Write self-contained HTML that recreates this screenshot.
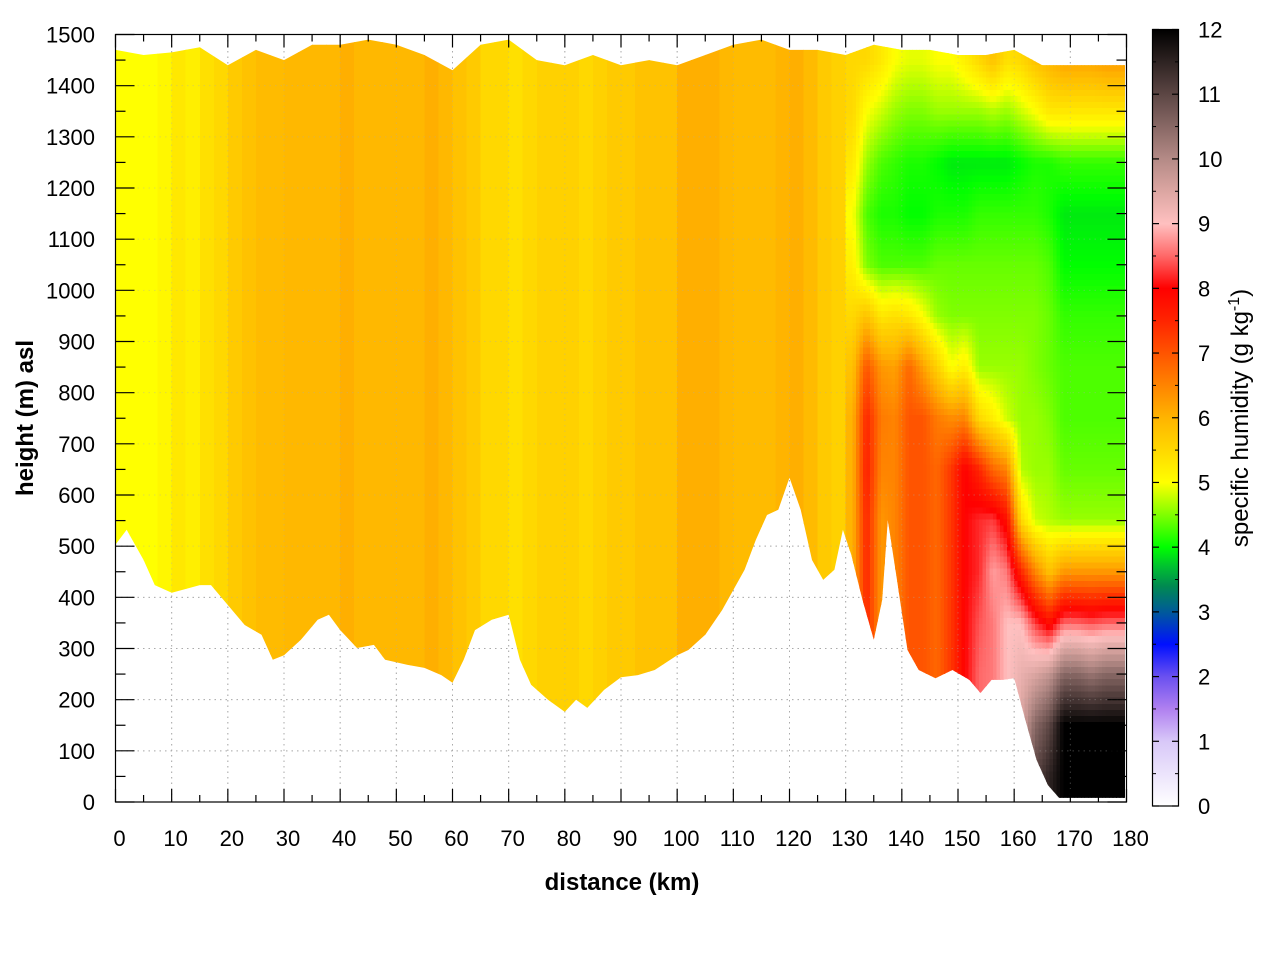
<!DOCTYPE html>
<html><head><meta charset="utf-8">
<style>
html,body{margin:0;padding:0;background:#fff;}
svg{display:block;font-family:"Liberation Sans",Arial,sans-serif;}
</style></head>
<body>
<svg id="chart" width="1280" height="960" viewBox="0 0 1280 960" xmlns="http://www.w3.org/2000/svg">
<defs>
  <clipPath id="dataClip"><path id="clipPathShape" d=""/></clipPath>
  <linearGradient id="cbGrad" x1="0" y1="1" x2="0" y2="0"></linearGradient>
</defs>
<rect x="0" y="0" width="1280" height="960" fill="#fff"/>
<g id="grid"></g>
<g clip-path="url(#dataClip)">
  <g id="heat" shape-rendering="crispEdges"></g>
</g>
<g id="grid2" opacity="0.35"></g>
<rect x="115.5" y="34.5" width="1011" height="767.5" fill="none" stroke="#000" stroke-width="1.2"/>
<g id="axes"></g>
<text x="622" y="890" text-anchor="middle" font-size="24" font-weight="bold">distance (km)</text>
<text transform="translate(33,418) rotate(-90)" text-anchor="middle" font-size="24" font-weight="bold">height (m) asl</text>
<rect x="1152.5" y="29.5" width="26" height="776.5" fill="url(#cbGrad)" stroke="#000" stroke-width="1.2"/>
<g id="cbaxis"></g>
<text transform="translate(1248,418) rotate(-90)" text-anchor="middle" font-size="24">specific humidity (g kg<tspan dy="-9" font-size="16">-1</tspan><tspan dy="9">)</tspan></text>
</svg>
<script>
// ---- data ----
const xTicks = [0,10,20,30,40,50,60,70,80,90,100,110,120,130,140,150,160,170,180];
const yTicks = [0,100,200,300,400,500,600,700,800,900,1000,1100,1200,1300,1400,1500];
const cbTicks = [0,1,2,3,4,5,6,7,8,9,10,11,12];
// left region (0-130 km), 2.5 km columns, vertically uniform humidity
const leftColValues = [5.0,5.0,5.0,5.1,5.3,5.2,5.4,5.5,5.7,5.8,5.9,5.9,5.95,5.95,5.95,5.95,6.05,5.95,5.95,5.95,5.95,5.95,6.05,5.95,5.8,5.7,5.5,5.5,5.4,5.5,5.6,5.6,5.6,5.5,5.6,5.7,5.7,5.8,5.8,5.8,6.05,6.05,6.05,5.95,5.9,5.9,5.9,6.0,6.05,5.9,5.7,5.6];
// right region (130-180 km), 2.5 km columns; each column lists 100 m rows from 1450 m down to 50 m
const rightColProfiles = [
 [5.5,5.5,5.3,5.0,5.2,5.5,5.8,6.0,6.0,6.0,6.0,6.0,6.0,6.0,6.0],
 [5.5,5.0,4.6,4.3,4.5,5.8,7.0,7.5,7.6,7.5,7.5,7.5,7.5,7.5,7.5],
 [5.3,4.8,4.3,4.1,4.3,5.3,6.3,6.6,6.5,6.3,6.3,6.3,6.3,6.3,6.3],
 [5.0,4.6,4.2,4.1,4.3,5.4,6.2,6.5,6.5,6.5,6.5,6.5,6.5,6.5,6.5],
 [4.9,4.5,4.1,4.0,4.3,5.3,6.8,7.0,7.0,7.0,7.0,7.0,7.0,7.0,7.0],
 [4.9,4.5,4.1,4.0,4.3,5.0,6.2,7.0,7.0,7.0,7.0,7.0,7.0,7.0,7.0],
 [5.0,4.6,4.0,4.1,4.4,4.6,5.6,6.6,6.8,6.8,6.8,6.8,6.8,6.8,6.8],
 [5.0,4.6,3.9,4.1,4.4,4.5,5.0,6.4,7.3,7.3,7.3,7.3,7.3,7.3,7.3],
 [5.2,4.6,3.9,4.1,4.4,4.5,5.2,6.5,8.0,8.0,8.0,8.0,8.0,8.0,8.0],
 [5.5,4.6,3.9,4.2,4.4,4.5,4.6,5.5,7.5,8.2,8.2,8.4,8.5,8.5,8.5],
 [5.8,4.7,3.9,4.2,4.4,4.5,4.6,5.2,6.8,8.3,8.8,8.6,8.6,8.6,8.6],
 [5.4,4.6,3.9,4.2,4.4,4.5,4.6,4.8,6.5,7.8,8.6,9.0,9.0,9.0,9.0],
 [5.5,4.8,4.0,4.2,4.4,4.5,4.6,4.6,4.7,5.5,7.5,9.0,9.3,9.5,9.5],
 [5.8,5.0,4.1,4.2,4.4,4.5,4.5,4.6,4.6,4.8,6.5,8.3,9.5,10.5,11.0],
 [6.0,5.3,4.1,4.1,4.3,4.4,4.4,4.5,4.6,4.7,5.8,7.8,9.8,11.0,11.5],
 [6.2,5.3,4.2,3.9,4.0,4.2,4.3,4.3,4.4,4.6,6.3,8.5,10.5,12.0,12.0],
 [6.2,5.3,4.2,3.9,4.0,4.2,4.3,4.3,4.4,4.6,6.3,8.5,10.5,12.0,12.0],
 [6.2,5.3,4.2,3.9,4.0,4.2,4.3,4.3,4.4,4.6,6.3,8.4,10.3,12.0,12.0],
 [6.3,5.3,4.2,3.9,4.0,4.2,4.3,4.3,4.4,4.6,6.3,8.5,10.5,12.0,12.0],
 [6.3,5.3,4.2,3.9,4.0,4.2,4.3,4.3,4.4,4.6,6.3,8.5,10.5,12.0,12.0]
];
// terrain (ground) profile
const groundDist = [0,2,5,7,10,12,15,17,20,23,26,28,30,33,36,38,40,43,46,48,52,55,58,60,62,64,67,70,72,74,77,80,82,84,87,90,93,96,100,102,105,108,112,114,116,118,120,122,124,126,128,129.5,131,133,135,136.5,137.5,139,141,143,146,149,152,154,156,158,160,162,164,166,168,180];
const groundHeight = [503,532,473,424,409,415,424,424,385,346,327,278,287,317,356,366,336,301,307,278,268,262,248,233,278,336,356,366,278,229,200,176,200,184,219,244,248,258,287,297,327,375,454,512,561,571,634,571,473,434,454,532,483,395,317,395,551,444,297,258,242,258,239,213,239,239,242,160,82,33,8,8];
// upper data boundary
const topDist = [0,5,10,15,20,25,30,35,40,45,50,55,60,65,70,75,80,85,90,95,100,105,110,115,120,125,130,135,140,145,150,155,160,165,170,180];
const topHeight = [1470,1460,1465,1475,1440,1470,1450,1480,1480,1490,1480,1460,1430,1480,1490,1450,1440,1460,1440,1450,1440,1460,1480,1490,1470,1470,1460,1480,1470,1470,1460,1460,1470,1440,1440,1440];

// ---- scales ----
const X0=115.5, X1=1126.5, Y0=802, Y1=34.5;
const xs = d => X0 + (d/180)*(X1-X0);
const ys = h => Y0 - (h/1500)*(Y0-Y1);
const CB_TOP=29.5, CB_BOT=806;
const cs = v => CB_BOT - (v/12)*(CB_BOT-CB_TOP);

const stops = [[0,'#ffffff'],[1,'#d8c8f8'],[1.5,'#b080f0'],[2,'#6a50f0'],[2.5,'#0010ff'],[3,'#005a9a'],[3.4,'#008a50'],[3.7,'#00c030'],[4,'#00ff00'],[4.5,'#80ff00'],[5,'#ffff00'],[5.5,'#ffd800'],[6,'#ffb400'],[6.5,'#ff8400'],[7,'#ff5400'],[7.5,'#ff2400'],[8,'#ff0000'],[8.5,'#ff6868'],[9,'#ffc0c0'],[9.5,'#dca6a2'],[10,'#b48a86'],[11,'#5c4644'],[12,'#000000']];
function hex(c){return [1,3,5].map(i=>parseInt(c.substr(i,2),16));}
function color(v){
  if(v<=stops[0][0]) return stops[0][1];
  for(let i=1;i<stops.length;i++){
    if(v<=stops[i][0]){
      const a=stops[i-1],b=stops[i],t=(v-a[0])/(b[0]-a[0]);
      const ca=hex(a[1]),cb=hex(b[1]);
      return 'rgb('+ca.map((x,k)=>Math.round(x+(cb[k]-x)*t)).join(',')+')';
    }
  }
  return stops[stops.length-1][1];
}
const NS='http://www.w3.org/2000/svg';
function mk(tag,attrs,parent){const e=document.createElementNS(NS,tag);for(const k in attrs)e.setAttribute(k,attrs[k]);parent.appendChild(e);return e;}

// gradient
const grad=document.getElementById('cbGrad');
stops.forEach(s=>{mk('stop',{offset:(s[0]/12*100)+'%','stop-color':s[1]},grad);});

// grid
['grid','grid2'].forEach(id=>{
  const g=document.getElementById(id);
  xTicks.slice(1,-1).forEach(t=>{
    const l=mk('line',{x1:xs(t),x2:xs(t),y1:Y1,y2:Y0,stroke:'#aaa','stroke-width':1,'stroke-dasharray':'1.5,4'},g);
    
    
  });
  yTicks.slice(1,-1).forEach(t=>{
    const l=mk('line',{x1:X0,x2:X1,y1:ys(t),y2:ys(t),stroke:'#aaa','stroke-width':1,'stroke-dasharray':'1.5,4'},g);
    
    
  });
});

// heatmap
const heat=document.getElementById('heat');
const colW=2.5;
leftColValues.forEach((v,i)=>{
  const d0=i*colW;
  const r=mk('rect',{x:xs(d0)-(i==0?10:0),y:ys(1600),width:xs(d0+colW)-xs(d0)+0.6+(i==0?10:0),height:ys(-100)-ys(1600),fill:color(v)},heat);
  
  
});
// right region rendered with bilinear smoothing between data cell centres
function rightValue(d,h){
  const nC=rightColProfiles.length, nR=rightColProfiles[0].length;
  let fc=(d-130-colW/2)/colW; fc=Math.max(0,Math.min(nC-1,fc));
  let fr=(1450-h)/100; fr=Math.max(0,Math.min(nR-1,fr));
  const c0=Math.floor(fc), c1=Math.min(nC-1,c0+1), tc=fc-c0;
  const r0=Math.floor(fr), r1=Math.min(nR-1,r0+1), tr=fr-r0;
  // leftmost column blends into the left-region value
  const a=rightColProfiles[c0][r0]*(1-tr)+rightColProfiles[c0][r1]*tr;
  const b=rightColProfiles[c1][r0]*(1-tr)+rightColProfiles[c1][r1]*tr;
  return a*(1-tc)+b*tc;
}
const subW=0.625, subH=12;
for(let d=130; d<180; d+=subW){
  for(let h=1560; h>-60; h-=subH){
    const v=rightValue(d+subW/2,h-subH/2);
    const r=mk('rect',{x:xs(d),y:ys(h),width:xs(d+subW)-xs(d)+0.8+(d+subW>=180?10:0),height:ys(h-subH)-ys(h)+0.8,fill:color(v)},heat);
    
    
  }
}

// clip shape
(function(){
  let p='';
  topDist.forEach((d,i)=>{p+=(i?'L':'M')+Math.min(xs(d),X1-1.5).toFixed(1)+','+ys(topHeight[i]).toFixed(1);});
  for(let i=groundDist.length-1;i>=0;i--){p+='L'+Math.min(xs(groundDist[i]),X1-1.5).toFixed(1)+','+ys(groundHeight[i]).toFixed(1);}
  p+='Z';
  document.getElementById('clipPathShape').setAttribute('d',p);
})();

// axes
const ax=document.getElementById('axes');
xTicks.forEach(t=>{
  const x=xs(t);
  mk('line',{x1:x,x2:x,y1:Y0,y2:Y0-13,stroke:'#000','stroke-width':1.2},ax);
  mk('line',{x1:x,x2:x,y1:Y1,y2:Y1+13,stroke:'#000','stroke-width':1.2},ax);
  if(t<180){
    const xm=xs(t+5);
    mk('line',{x1:xm,x2:xm,y1:Y0,y2:Y0-7,stroke:'#000','stroke-width':1.2},ax);
    mk('line',{x1:xm,x2:xm,y1:Y1,y2:Y1+7,stroke:'#000','stroke-width':1.2},ax);
  }
  const tx=mk('text',{x:x+4,y:846,'text-anchor':'middle','font-size':22},ax);
  tx.textContent=t;
  
  
});
yTicks.forEach(t=>{
  const y=ys(t);
  mk('line',{x1:X0,x2:X0+19,y1:y,y2:y,stroke:'#000','stroke-width':1.2},ax);
  mk('line',{x1:X1,x2:X1-19,y1:y,y2:y,stroke:'#000','stroke-width':1.2},ax);
  if(t<1500){
    const ym=ys(t+50);
    mk('line',{x1:X0,x2:X0+10,y1:ym,y2:ym,stroke:'#000','stroke-width':1.2},ax);
    mk('line',{x1:X1,x2:X1-10,y1:ym,y2:ym,stroke:'#000','stroke-width':1.2},ax);
  }
  const tx=mk('text',{x:95,y:y+8,'text-anchor':'end','font-size':22},ax);
  tx.textContent=t;
  
  
});
const cb=document.getElementById('cbaxis');
cbTicks.forEach(t=>{
  const y=cs(t);
  mk('line',{x1:1152.5,x2:1159,y1:y,y2:y,stroke:'#000','stroke-width':1.2},cb);
  mk('line',{x1:1178.5,x2:1172,y1:y,y2:y,stroke:'#000','stroke-width':1.2},cb);
  if(t<12){
    const ym=cs(t+0.5);
    mk('line',{x1:1152.5,x2:1156,y1:ym,y2:ym,stroke:'#000','stroke-width':1},cb);
    mk('line',{x1:1178.5,x2:1175,y1:ym,y2:ym,stroke:'#000','stroke-width':1},cb);
  }
  const tx=mk('text',{x:1198,y:y+8,'font-size':22},cb);
  tx.textContent=t;
  
  
});
</script>
</body></html>
